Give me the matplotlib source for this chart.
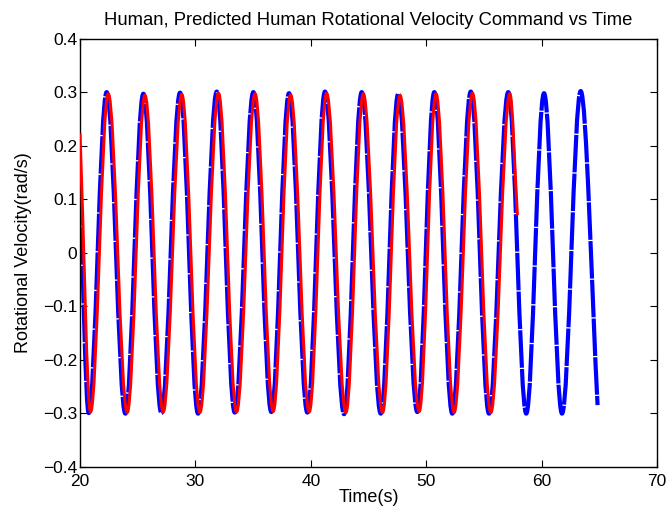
import matplotlib
matplotlib.use("Agg")
import matplotlib.pyplot as plt
from matplotlib.path import Path
from matplotlib.patches import PathPatch
from matplotlib.ticker import FuncFormatter

plt.rcParams['font.family'] = ['Liberation Sans', 'DejaVu Sans']

# ---- data (extrema of each oscillation) ----
human_start = (20.0, 0.12)
human_end = (64.85, -0.285)
human_trough_t = [20.75, 23.93, 27.05, 30.23, 33.41, 36.58, 39.70, 42.88, 46.06, 49.23, 52.26, 55.44, 58.67, 61.77]
human_trough_v = [-0.300, -0.301, -0.300, -0.301, -0.299, -0.298, -0.299, -0.302, -0.301, -0.298, -0.301, -0.301, -0.301, -0.301]
human_peak_t = [22.31, 25.49, 28.67, 31.85, 35.02, 38.11, 41.23, 44.41, 47.58, 50.70, 53.86, 57.11, 60.21, 63.39]
human_peak_v = [0.300, 0.297, 0.299, 0.301, 0.300, 0.298, 0.301, 0.300, 0.297, 0.300, 0.301, 0.300, 0.298, 0.302]

pred_start = (20.0, 0.223)
pred_end = (57.9, 0.07)
pred_trough_t = [20.91, 24.09, 27.21, 30.39, 33.57, 36.74, 39.86, 43.04, 46.22, 49.39, 52.42, 55.60]
pred_trough_v = [-0.298, -0.299, -0.298, -0.299, -0.298, -0.297, -0.298, -0.299, -0.299, -0.297, -0.299, -0.299]
pred_peak_t = [22.45, 25.63, 28.82, 32.00, 35.17, 38.25, 41.37, 44.55, 47.73, 50.85, 54.01, 57.25]
pred_peak_v = [0.297, 0.294, 0.296, 0.298, 0.297, 0.295, 0.298, 0.297, 0.294, 0.297, 0.298, 0.297]

x_ticks = [20, 30, 40, 50, 60, 70]
y_ticks = [-0.4, -0.3, -0.2, -0.1, 0, 0.1, 0.2, 0.3, 0.4]


def build_path(start, end, trough_t, trough_v, peak_t, peak_v):
    ext = []
    for i in range(max(len(trough_t), len(peak_t))):
        if i < len(trough_t):
            ext.append((trough_t[i], trough_v[i]))
        if i < len(peak_t):
            ext.append((peak_t[i], peak_v[i]))
    ext.sort()
    a = 0.3634
    verts = [start]
    codes = [Path.MOVETO]
    e = ext[0]
    dt = e[0] - start[0]
    verts += [(start[0] + dt / 3, start[1] + (e[1] - start[1]) / 3), (e[0] - dt / 3, e[1]), e]
    codes += [Path.CURVE4] * 3
    for p, q in zip(ext[:-1], ext[1:]):
        dt = q[0] - p[0]
        verts += [(p[0] + a * dt, p[1]), (q[0] - a * dt, q[1]), q]
        codes += [Path.CURVE4] * 3
    e = ext[-1]
    dt = end[0] - e[0]
    verts += [(e[0] + dt / 3, e[1]), (end[0] - dt / 3, end[1] - (end[1] - e[1]) / 3), end]
    codes += [Path.CURVE4] * 3
    return Path(verts, codes)


fig = plt.figure(figsize=(6.7, 5.15), dpi=100)
ax = fig.add_axes([0.1194, 0.094, 0.8612, 0.831])

human_path = build_path(human_start, human_end, human_trough_t, human_trough_v, human_peak_t, human_peak_v)
pred_path = build_path(pred_start, pred_end, pred_trough_t, pred_trough_v, pred_peak_t, pred_peak_v)

ax.add_patch(PathPatch(human_path, fill=False, edgecolor=(0, 0, 1), linewidth=3.0,
                       linestyle=(0, (9.0, 0.3)), capstyle='butt', joinstyle='round', zorder=2))
ax.add_patch(PathPatch(pred_path, fill=False, edgecolor=(1, 0, 0), linewidth=2.2,
                       linestyle='-', capstyle='butt', joinstyle='round', zorder=3))

ax.set_xlim(20, 70)
ax.set_ylim(-0.4, 0.4)
ax.set_xticks(x_ticks)
ax.set_yticks(y_ticks)


def fmt(v, pos):
    v = round(v, 6)
    if v == 0:
        return "0"
    return f"{v:g}".replace('-', '\u2212')


ax.yaxis.set_major_formatter(FuncFormatter(fmt))
ax.xaxis.set_major_formatter(FuncFormatter(fmt))
ax.tick_params(direction='in', top=True, right=True, length=5, width=0.8, labelsize=12.5)
ax.tick_params(axis='x', pad=5)
ax.tick_params(axis='y', pad=2)
for s in ax.spines.values():
    s.set_linewidth(1.0)

ax.set_title("Human, Predicted Human Rotational Velocity Command vs Time", fontsize=13.3, pad=10)
ax.set_xlabel("Time(s)", fontsize=13, labelpad=0)
ax.set_ylabel("Rotational Velocity(rad/s)", fontsize=13, labelpad=8)

fig.savefig("out.png", dpi=100)
